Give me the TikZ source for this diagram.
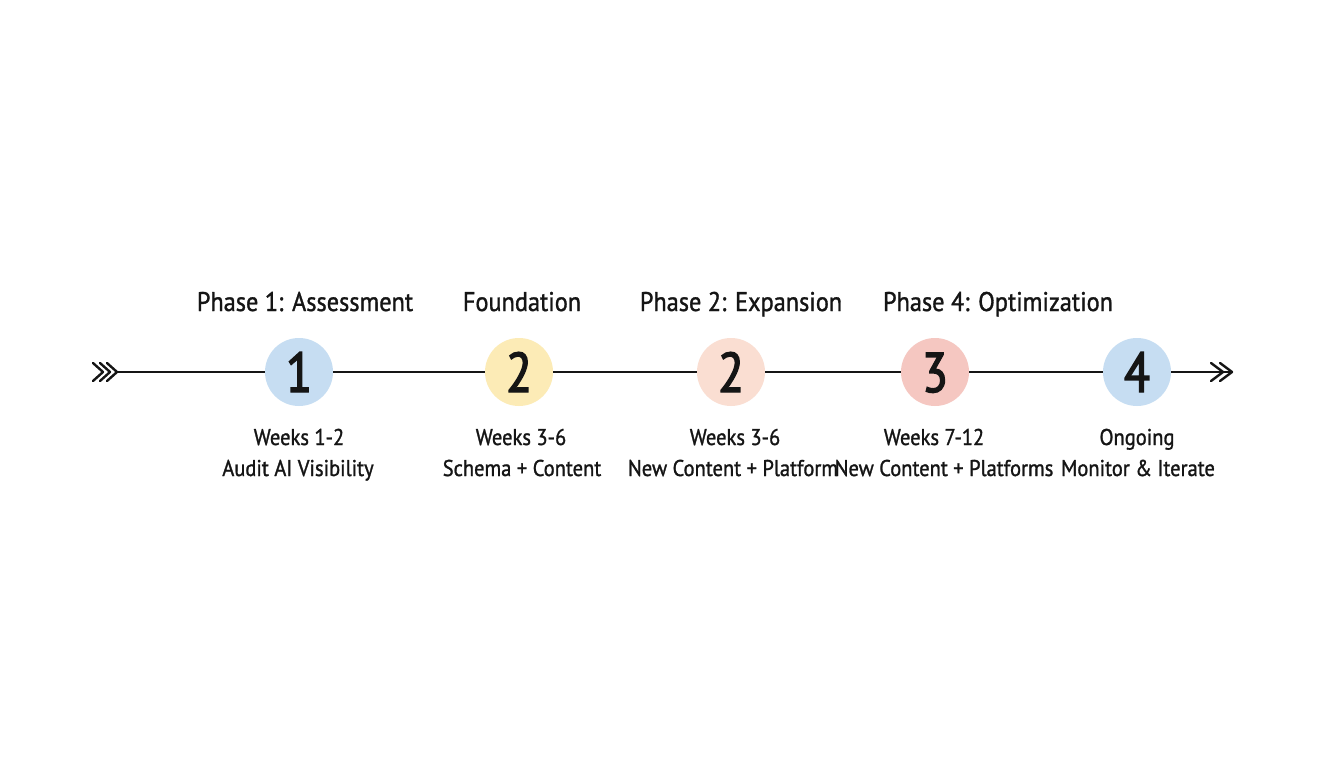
\documentclass[tikz,border=0pt]{standalone}
\usepackage{fontspec}
\setmainfont{PT Sans}[FakeStretch=0.9, FakeBold=1.2]
\newfontfamily\numfont{PT Sans}[FakeStretch=0.85, FakeBold=2.5]
\usetikzlibrary{arrows.meta}
\definecolor{cblue}{HTML}{C6DDF2}
\definecolor{cyellow}{HTML}{FCEBB6}
\definecolor{cpeach}{HTML}{FADED2}
\definecolor{cpink}{HTML}{F5C7C1}
\definecolor{ink}{HTML}{151515}
\tikzset{
  phase/.style={circle, minimum size=68pt, inner sep=0pt, text=ink},
  num/.style={anchor=base, inner sep=0pt, font=\numfont\fontsize{56}{56}\selectfont, text=ink},
  title/.style={anchor=base, inner sep=0pt, font=\fontsize{27}{30}\selectfont, text=ink},
  lbl/.style={anchor=base, inner sep=0pt, font=\fontsize{22.8}{31}\selectfont, text=ink},
  axis/.style={draw=ink, line width=2.4pt},
  chev/.style={draw=ink, line width=2.4pt, line cap=round, line join=round}
}
\begin{document}
\begin{tikzpicture}[x=1pt,y=-1pt]
\useasboundingbox (0,0) rectangle (1344,768);
\fill[white] (0,0) rectangle (1344,768);
\coordinate (start) at (117,372);
\coordinate (end) at (1232,372);
\node[phase, fill=cblue] (c1) at (299,372) {};
\node[phase, fill=cyellow] (c2) at (519,372) {};
\node[phase, fill=cpeach] (c3) at (731,372) {};
\node[phase, fill=cpink] (c4) at (935,372) {};
\node[phase, fill=cblue] (c5) at (1137,372) {};
\node[num] (n1) at (299,392) {1};
\node[num] (n2) at (519,392) {2};
\node[num] (n3) at (731,392) {2};
\node[num] (n4) at (935,392) {3};
\node[num] (n5) at (1137,392) {4};
\draw[axis] (start) -- (c1);
\draw[axis] (c1) -- (c2);
\draw[axis] (c2) -- (c3);
\draw[axis] (c3) -- (c4);
\draw[axis] (c4) -- (c5);
\draw[axis] (c5) -- (end);
% tail feathers
\foreach \d in {0,7,14}{
  \draw[chev] ([xshift=-\d-10pt,yshift=-9pt]start) -- ([xshift=-\d pt]start) -- ([xshift=-\d-10pt,yshift=9pt]start);
}
% head
\foreach \d in {0,9}{
  \draw[chev] ([xshift=-\d-12pt,yshift=-9pt]end) -- ([xshift=-\d pt]end) -- ([xshift=-\d-12pt,yshift=9pt]end);
}
\node[title] (t1) at (305,311) {Phase 1: Assessment};
\node[title] (t2) at (522,311) {Foundation};
\node[title] (t3) at (741,311) {Phase 2: Expansion};
\node[title] (t4) at (998,311) {Phase 4: Optimization};
\node[lbl] (l1a) at (299,445) {Weeks 1-2};
\node[lbl] (l1b) at (298,476) {Audit AI Visibility};
\node[lbl] (l2a) at (521,445) {Weeks 3-6};
\node[lbl] (l2b) at (522,476) {Schema + Content};
\node[lbl] (l3a) at (735,445) {Weeks 3-6};
\node[lbl] (l3b) at (733,476) {New Content + Platform};
\node[lbl] (l4a) at (934,445) {Weeks 7-12};
\node[lbl] (l4b) at (944,476) {New Content + Platforms};
\node[lbl] (l5a) at (1137,445) {Ongoing};
\node[lbl] (l5b) at (1138,476) {Monitor \& Iterate};
\end{tikzpicture}
\end{document}
